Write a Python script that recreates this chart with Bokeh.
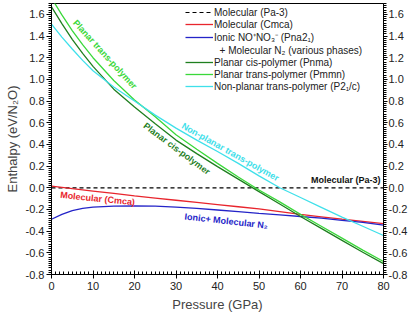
import numpy as np
from bokeh.plotting import figure
from bokeh.models import Range1d, LinearAxis, Legend, LegendItem, FixedTicker, CustomJSTickFormatter
from bokeh.core.properties import value
from bokeh.embed import file_html
from bokeh.resources import INLINE

pressure = [0, 2.5, 5, 7.5, 10, 15, 20, 25, 30, 35, 40, 45, 50, 55, 60, 65, 70, 75, 80]
pa3 = [0.0] * len(pressure)
cmca = [0.015, 0.004, -0.008, -0.019, -0.03, -0.052, -0.075, -0.095, -0.115, -0.135,
        -0.155, -0.175, -0.195, -0.22, -0.245, -0.268, -0.29, -0.31, -0.33]
ionic = [-0.29, -0.245, -0.21, -0.19, -0.178, -0.169, -0.167, -0.17, -0.178, -0.19,
         -0.205, -0.22, -0.237, -0.25, -0.265, -0.28, -0.30, -0.32, -0.345]
cis_poly = [1.67, 1.515, 1.37, 1.24, 1.12, 0.91, 0.745, 0.59, 0.44, 0.315, 0.195, 0.08,
            -0.035, -0.15, -0.265, -0.375, -0.485, -0.595, -0.70]
trans_poly = [1.75, 1.595, 1.45, 1.32, 1.20, 0.99, 0.81, 0.655, 0.49, 0.355, 0.225, 0.10,
              -0.02, -0.13, -0.245, -0.355, -0.465, -0.575, -0.68]
nonplanar = [1.51, 1.39, 1.28, 1.175, 1.08, 0.93, 0.80, 0.67, 0.55, 0.44, 0.335, 0.225,
             0.11, 0.00, -0.09, -0.18, -0.27, -0.355, -0.44]

x_ticks = [0, 10, 20, 30, 40, 50, 60, 70, 80]
y_ticks = [-0.8, -0.6, -0.4, -0.2, 0.0, 0.2, 0.4, 0.6, 0.8, 1.0, 1.2, 1.4, 1.6]

legend_labels = [
    "Molecular (Pa-3)",
    "Molecular (Cmca)",
    "Ionic NO\u207aNO\u2083\u207b (Pna2\u2081)",
    "\u00a0\u00a0+ Molecular N\u2082 (various phases)",
    "Planar cis-polymer (Pnma)",
    "Planar trans-polymer (Pmmn)",
    "Non-planar trans-polymer (P2\u2081/c)",
]

FONT = "Liberation Sans"
C_RED = "#e8252d"
C_BLUE = "#2424c8"
C_DGREEN = "#1f7f1f"
C_LGREEN = "#3ad83a"
C_CYAN = "#3fe0ea"

p = figure(width=410, height=317, output_backend="svg", toolbar_location=None,
           x_range=Range1d(0, 80), y_range=Range1d(-0.8, 1.7),
           min_border_left=51, min_border_right=27, min_border_top=3, min_border_bottom=43)
p.grid.visible = False
p.outline_line_color = "black"
p.outline_line_width = 1
p.background_fill_color = "white"
p.border_fill_color = "white"

minor_y = [round(v, 2) for v in np.arange(-0.8, 1.701, 0.02)]
minor_x = list(np.arange(0, 81, 1.0))

xa = p.xaxis[0]
xa.ticker = FixedTicker(ticks=x_ticks, minor_ticks=minor_x)
xa.axis_label = "Pressure (GPa)"
ya = p.yaxis[0]
ya.ticker = FixedTicker(ticks=y_ticks, minor_ticks=minor_y)
ya.axis_label = "Enthalpy (eV/N\u2082O)"
ya.formatter = CustomJSTickFormatter(code="return tick.toFixed(1);")

ra = LinearAxis(ticker=FixedTicker(ticks=y_ticks, minor_ticks=minor_y),
                formatter=CustomJSTickFormatter(code="return tick.toFixed(1);"))
p.add_layout(ra, "right")

for ax in [xa, ya, ra]:
    ax.major_label_text_font = FONT
    ax.major_label_text_font_size = "11px"
    ax.major_label_text_color = "#222222"
    ax.axis_label_text_font = FONT
    ax.axis_label_text_font_style = "normal"
    ax.axis_label_text_font_size = "13px"
    ax.axis_line_color = "black"
    ax.major_tick_line_color = "black"
    ax.minor_tick_line_color = "black"

xa.major_tick_in = 4
xa.major_tick_out = 4
xa.minor_tick_in = 3
xa.minor_tick_out = 0
xa.major_label_standoff = 3
xa.axis_label_standoff = 4

ya.major_tick_in = 0
ya.major_tick_out = 5
ya.minor_tick_in = 0
ya.minor_tick_out = 3
ya.major_label_standoff = 2
ya.axis_label_standoff = 3

ra.major_tick_in = 0
ra.major_tick_out = 4
ra.minor_tick_in = 0
ra.minor_tick_out = 3
ra.major_label_standoff = 1

r_pa3 = p.line(pressure, pa3, line_color="black", line_width=1.2, line_dash="4 3")
r_cmca = p.line(pressure, cmca, line_color=C_RED, line_width=1.3)
r_ionic = p.line(pressure, ionic, line_color=C_BLUE, line_width=1.3)
r_dummy = p.line([], [], line_alpha=0)
r_cis = p.line(pressure, cis_poly, line_color=C_DGREEN, line_width=1.3)
r_trans = p.line(pressure, trans_poly, line_color=C_LGREEN, line_width=1.3)
r_np = p.line(pressure, nonplanar, line_color=C_CYAN, line_width=1.3)

renders = [r_pa3, r_cmca, r_ionic, r_dummy, r_cis, r_trans, r_np]
items = [LegendItem(label=lab, renderers=[r]) for lab, r in zip(legend_labels, renders)]
legend = Legend(items=items, location=(134, 182), padding=0, margin=0, spacing=0,
                glyph_width=28, glyph_height=12, label_height=12, label_standoff=1,
                label_text_font=FONT, label_text_font_size="10px", label_text_color="#222222",
                border_line_alpha=0, background_fill_alpha=0)
p.add_layout(legend)

def lab(x, y, txt, color, angle=0.0, align="center"):
    p.text(x=[x], y=[y], text=[txt], angle=angle, text_color=color,
           text_font=value(FONT), text_font_size="9px", text_font_style="bold",
           text_align=align, text_baseline="middle")

lab(12.9, 1.23, "Planar trans-polymer", C_LGREEN, angle=-0.83)
lab(30.2, 0.36, "Planar cis-polymer", C_DGREEN, angle=-0.64)
lab(43.1, 0.33, "Non-planar trans-polymer", C_CYAN, angle=-0.51)
lab(79.3, 0.071, "Molecular (Pa-3)", "#111111", align="right")
lab(11.1, -0.10, "Molecular (Cmca)", C_RED, angle=-0.10)
lab(42.1, -0.307, "Ionic+ Molecular N\u2082", C_BLUE, angle=-0.11)

open("out.html", "w").write(file_html(p, INLINE))
